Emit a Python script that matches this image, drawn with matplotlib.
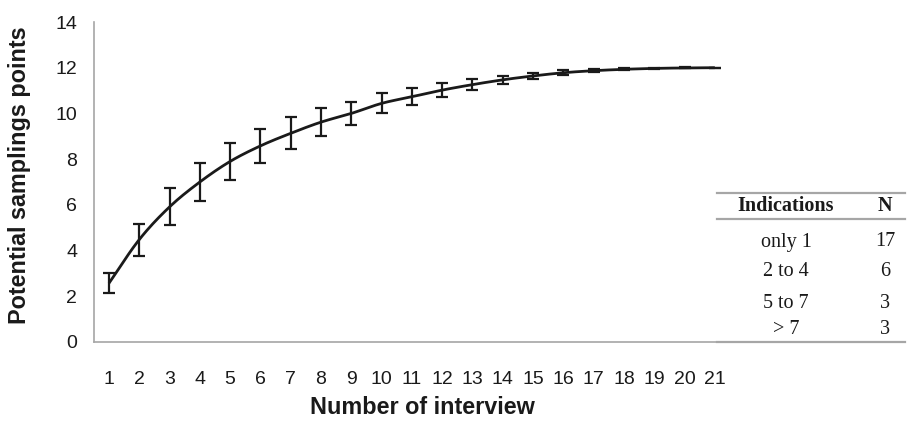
import numpy as np
import matplotlib
matplotlib.use("Agg")
import matplotlib.pyplot as plt
from matplotlib.lines import Line2D

# ---- data ----
interviews = list(range(1, 22))
means = [2.57, 4.48, 5.91, 7.0, 7.9, 8.58, 9.13, 9.62, 10.0, 10.44, 10.73,
         11.02, 11.26, 11.47, 11.64, 11.78, 11.87, 11.93, 11.97, 11.99, 12.0]
errors = [0.44, 0.70, 0.81, 0.82, 0.82, 0.74, 0.70, 0.60, 0.51, 0.44, 0.37,
          0.30, 0.24, 0.18, 0.14, 0.10, 0.07, 0.05, 0.03, 0.02, 0.0]
yticks = [0, 2, 4, 6, 8, 10, 12, 14]
table_header = ["Indications", "N"]
table_labels = ["only 1", "2 to 4", "5 to 7", "> 7"]
table_counts = [17, 6, 3, 3]

W, H = 907, 429
fig = plt.figure(figsize=(W / 100, H / 100), dpi=100)


def fx(px):
    return px / W


def fy(py):
    return 1 - py / H


ax_l, ax_r = 93.8, 730
ax = fig.add_axes([fx(ax_l), fy(342), fx(ax_r) - fx(ax_l), fy(22) - fy(342)])


def catmull_rom(x, y, n=20):
    x = np.asarray(x, float)
    y = np.asarray(y, float)
    px = np.concatenate([[2 * x[0] - x[1]], x, [2 * x[-1] - x[-2]]])
    py = np.concatenate([[2 * y[0] - y[1]], y, [2 * y[-1] - y[-2]]])
    xs, ys = [], []
    t = np.linspace(0, 1, n, endpoint=False)
    for i in range(1, len(px) - 2):
        for P, out in ((px, xs), (py, ys)):
            p0, p1, p2, p3 = P[i - 1], P[i], P[i + 1], P[i + 2]
            out.extend(0.5 * ((2 * p1) + (-p0 + p2) * t
                              + (2 * p0 - 5 * p1 + 4 * p2 - p3) * t ** 2
                              + (-p0 + 3 * p1 - 3 * p2 + p3) * t ** 3))
    xs.append(x[-1])
    ys.append(y[-1])
    return np.array(xs), np.array(ys)


sx, sy = catmull_rom(interviews, means)
ax.plot(sx, sy, color="#1a1a1a", lw=2.0, solid_capstyle="butt", zorder=3)
ax.errorbar(interviews, means, yerr=errors, fmt="none", ecolor="#1a1a1a",
            elinewidth=1.6, capsize=4, capthick=1.6, zorder=4)

ax.set_xlim(0.5, 21.5)
ax.set_ylim(0, 14)
ax.set_xticks(interviews)
ax.set_yticks(yticks)
for s in ["top", "right"]:
    ax.spines[s].set_visible(False)
for s in ["left", "bottom"]:
    ax.spines[s].set_color("#a6a6a6")
    ax.spines[s].set_linewidth(1.2)
ax.tick_params(axis="both", length=0, labelsize=14, colors="#1a1a1a",
               labelfontfamily="Liberation Sans")
ax.tick_params(axis="x", pad=21)
ax.tick_params(axis="y", pad=12)

ax.set_ylabel("Potential samplings points", fontsize=16.8, fontweight="bold",
              family="Liberation Sans", color="#1a1a1a")
ax.yaxis.set_label_coords((20 - ax_l) / (ax_r - ax_l), 0.522)
ax.yaxis.label.set_va("center")
ax.set_xlabel("Number of interview", fontsize=16.8, fontweight="bold",
              family="Liberation Sans", color="#1a1a1a")
ax.xaxis.set_label_coords((422 - ax_l) / (ax_r - ax_l), -0.206)
ax.xaxis.label.set_va("center")

# ---- table ----
tl, tr = 717, 905
for yy in (193, 219, 342):
    fig.add_artist(Line2D([fx(tl), fx(tr)], [fy(yy), fy(yy)],
                          color="#a6a6a6", lw=1.6))
c1, c2 = 786, 885
serif = "Liberation Serif"
fs_t = 14.5
fig.text(fx(c1), fy(206), table_header[0], ha="center", va="center",
         fontsize=fs_t, fontweight="bold", family=serif, color="#1a1a1a")
fig.text(fx(c2), fy(206), table_header[1], ha="center", va="center",
         fontsize=fs_t, fontweight="bold", family=serif, color="#1a1a1a")
row_y = [242, 272, 303, 329]
for lab, cnt, yy in zip(table_labels, table_counts, row_y):
    fig.text(fx(c1), fy(yy), lab, ha="center", va="center", fontsize=fs_t,
             family=serif, color="#1a1a1a")
    fig.text(fx(c2), fy(yy), str(cnt), ha="center", va="center", fontsize=fs_t,
             family=serif, color="#1a1a1a")

fig.savefig("out.png", dpi=100)
